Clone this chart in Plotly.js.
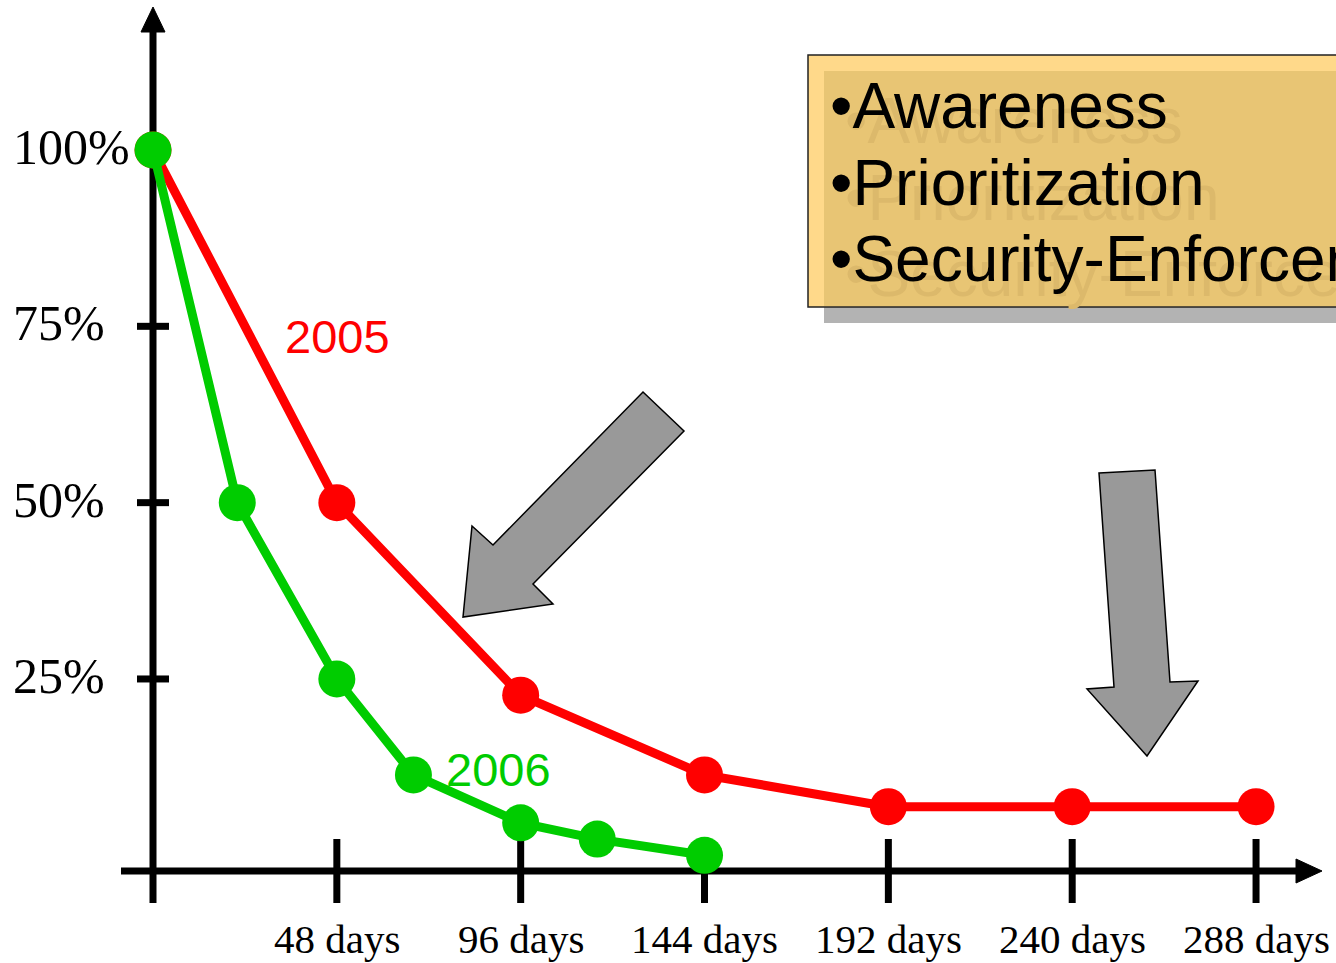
<!DOCTYPE html>
<html>
<head>
<meta charset="utf-8">
<script src="https://cdn.plot.ly/plotly-3.0.1.min.js"></script>
<style>
  html, body { margin: 0; padding: 0; background: #ffffff; overflow: hidden; }
  #chart { width: 1336px; height: 963px; }
</style>
</head>
<body>
<div id="chart"></div>
<script>
// ---------------- data ----------------
const series2005Name = "2005";
const series2005Days = [0, 48, 96, 144, 192, 240, 288];
const series2005Pct  = [100, 50, 22.7, 11.4, 6.9, 6.9, 6.9];

const series2006Name = "2006";
const series2006Days = [0, 22, 48, 68, 96, 116, 144];
const series2006Pct  = [100, 50, 25, 11.4, 4.6, 2.3, 0];

const xTickVals  = [48, 96, 144, 192, 240, 288];
const xTickText  = ["48 days", "96 days", "144 days", "192 days", "240 days", "288 days"];
const yTickVals  = [100, 75, 50, 25];
const yTickText  = ["100%", "75%", "50%", "25%"];

const boxLines = ["\u2022Awareness", "\u2022Prioritization", "\u2022Security-Enforcement"];

// ---------------- geometry (layout only) ----------------
const W = 1336, H = 963;
const X0PX = 153, XSCALE = 3.83;     // pixel of day 0, px per day
const Y0PX = 855.3, YSCALE = 7.053;  // pixel of 0 %, px per percent
const PX = p => p / W;               // pixel -> paper x
const PY = p => 1 - p / H;           // pixel -> paper y
const xRange = [(0 - X0PX) / XSCALE, (W - X0PX) / XSCALE];
const yRange = [(Y0PX - H) / YSCALE, Y0PX / YSCALE];

const RED = "#ff0000";
const GREEN = "#00cc00";
const SERIF = "Liberation Serif, Times New Roman, serif";
const SANS = "Liberation Sans, Arial, sans-serif";

const traces = [
  {
    type: "scatter", mode: "lines+markers", name: series2005Name,
    x: series2005Days, y: series2005Pct,
    line: { color: RED, width: 9 },
    marker: { color: RED, size: 37 },
    cliponaxis: false, hoverinfo: "skip"
  },
  {
    type: "scatter", mode: "lines+markers", name: series2006Name,
    x: series2006Days, y: series2006Pct,
    line: { color: GREEN, width: 9 },
    marker: { color: GREEN, size: 37 },
    cliponaxis: false, hoverinfo: "skip"
  }
];

const shapes = [];
// axis lines
shapes.push({ type: "line", xref: "paper", yref: "paper", layer: "below",
  x0: PX(121), x1: PX(1300), y0: PY(871), y1: PY(871),
  line: { color: "#000", width: 7 } });
shapes.push({ type: "line", xref: "x", yref: "paper", layer: "below",
  x0: 0, x1: 0, y0: PY(903), y1: PY(30),
  line: { color: "#000", width: 7 } });
// arrow heads
const tri = (pts) => "M" + pts.map(p => PX(p[0]) + "," + PY(p[1])).join(" L") + " Z";
shapes.push({ type: "path", xref: "paper", yref: "paper", layer: "below",
  path: tri([[1296, 859], [1322, 871], [1296, 883]]),
  fillcolor: "#000", line: { color: "#000", width: 1 } });
shapes.push({ type: "path", xref: "paper", yref: "paper", layer: "below",
  path: tri([[141, 32], [153, 7], [165, 32]]),
  fillcolor: "#000", line: { color: "#000", width: 1 } });
// x ticks (crossing)
xTickVals.forEach(v => shapes.push({ type: "line", xref: "x", yref: "paper", layer: "below",
  x0: v, x1: v, y0: PY(839), y1: PY(903), line: { color: "#000", width: 7 } }));
// y ticks (crossing)
yTickVals.forEach(v => shapes.push({ type: "line", xref: "paper", yref: "y", layer: "below",
  x0: PX(137), x1: PX(169), y0: v, y1: v, line: { color: "#000", width: 7 } }));

// block arrows
const poly = (pts) => "M" + pts.map(p => PX(p[0]) + "," + PY(p[1])).join(" L") + " Z";
shapes.push({ type: "path", xref: "paper", yref: "paper", layer: "above",
  path: poly([[643, 392], [684, 431], [533, 584], [553, 604], [463, 617], [472, 526], [493, 545]]),
  fillcolor: "#999999", line: { color: "#000", width: 1.5 } });
shapes.push({ type: "path", xref: "paper", yref: "paper", layer: "above",
  path: poly([[1099, 473], [1155, 470], [1170, 682], [1198, 681], [1147, 756], [1087, 689], [1114, 687]]),
  fillcolor: "#999999", line: { color: "#000", width: 1.5 } });

// text box with shadow
shapes.push({ type: "rect", xref: "paper", yref: "paper", layer: "above",
  x0: PX(824), x1: PX(1345), y0: PY(323), y1: PY(71),
  fillcolor: "#b3b3b3", line: { width: 0 } });
shapes.push({ type: "rect", xref: "paper", yref: "paper", layer: "above",
  x0: PX(808), x1: PX(1345), y0: PY(307), y1: PY(55),
  fillcolor: "#ffd98a", line: { color: "#222", width: 1.5 } });
shapes.push({ type: "rect", xref: "paper", yref: "paper", layer: "above",
  x0: PX(824), x1: PX(1345), y0: PY(306), y1: PY(71),
  fillcolor: "#e8c574", line: { width: 0 } });

const annotations = [];
// y tick labels (left aligned)
yTickVals.forEach((v, i) => annotations.push({
  xref: "paper", yref: "y", x: PX(11), y: v, xanchor: "left", yanchor: "middle",
  yshift: 3, showarrow: false, text: yTickText[i],
  font: { family: SERIF, size: 50, color: "#000" }
}));
// x tick labels
xTickVals.forEach((v, i) => annotations.push({
  xref: "x", yref: "paper", x: v, y: PY(939), xanchor: "center", yanchor: "middle",
  showarrow: false, text: xTickText[i],
  font: { family: SERIF, size: 41, color: "#000" }
}));
// series labels
annotations.push({ xref: "x", yref: "y", x: 48.3, y: 73.6, showarrow: false,
  text: series2005Name, font: { family: SANS, size: 47, color: RED } });
annotations.push({ xref: "x", yref: "y", x: 90.1, y: 12.2, showarrow: false,
  text: series2006Name, font: { family: SANS, size: 47, color: GREEN } });
// box text: ghost shadow first, then black
const lineCentersPx = [106, 183, 259];
boxLines.forEach((t, i) => annotations.push({
  xref: "paper", yref: "paper", x: PX(828 + 15), y: PY(lineCentersPx[i] + 15),
  xanchor: "left", yanchor: "middle", showarrow: false, text: t,
  font: { family: SANS, size: 64, color: "#dcb96b" }
}));
boxLines.forEach((t, i) => annotations.push({
  xref: "paper", yref: "paper", x: PX(828), y: PY(lineCentersPx[i]),
  xanchor: "left", yanchor: "middle", showarrow: false, text: t,
  font: { family: SANS, size: 64, color: "#000" }
}));

const layout = {
  width: W, height: H,
  margin: { l: 0, r: 0, t: 0, b: 0, pad: 0 },
  paper_bgcolor: "#ffffff", plot_bgcolor: "#ffffff",
  showlegend: false,
  xaxis: { range: xRange, visible: false, fixedrange: true, domain: [0, 1] },
  yaxis: { range: yRange, visible: false, fixedrange: true, domain: [0, 1] },
  shapes: shapes,
  annotations: annotations
};

Plotly.newPlot("chart", traces, layout, { staticPlot: true, displayModeBar: false });
</script>
</body>
</html>
